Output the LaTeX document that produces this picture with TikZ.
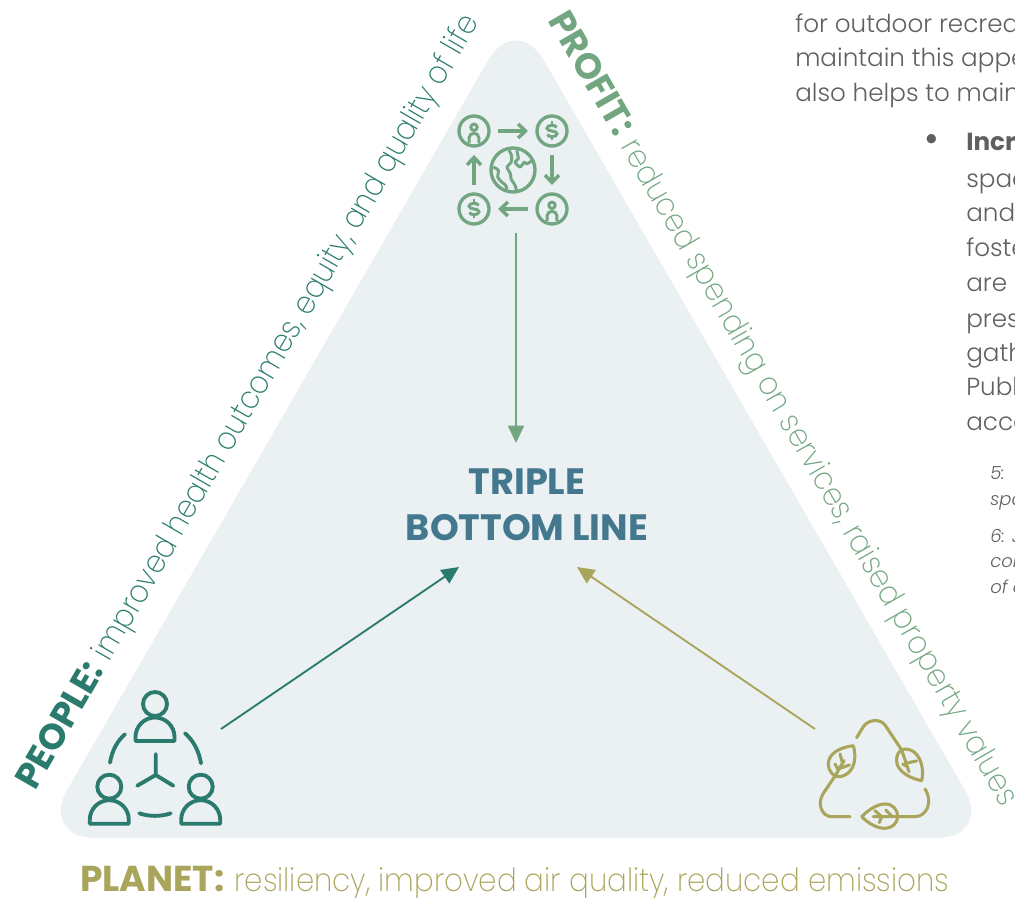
\documentclass[tikz,border=0pt]{standalone}
\usepackage{fontspec}
\usepackage{tikz}
\usetikzlibrary{arrows.meta,positioning,calc}
\setmainfont{Poppins Light}[BoldFont={Poppins Bold},ItalicFont={Poppins Light Italic}]
\newfontfamily\sidefont{Poppins ExtraLight}
\newfontfamily\sideboldfont{Poppins Bold}
\definecolor{peoplegreen}{HTML}{2A7B6D}
\definecolor{profitgreen}{HTML}{72A680}
\definecolor{planetolive}{HTML}{A9A55B}
\definecolor{titleblue}{HTML}{43788E}
\definecolor{panelgrey}{HTML}{EBF0F2}
\definecolor{bodygrey}{HTML}{606060}
\newcommand{\sidebold}[1]{{\sideboldfont\fontsize{27}{27}\selectfont #1}\hspace{7.5pt}}
\newcommand{\sidelight}[2]{{\sidefont\addfontfeature{FakeStretch=#1}\fontsize{24}{24}\selectfont #2}}
\tikzstyle{sidelabel} = [anchor=base west, inner sep=0pt]
\tikzstyle{bodyline} = [anchor=base west, inner sep=0pt, text=bodygrey, font=\fontsize{18.5}{18.5}\selectfont]
\tikzstyle{noteline} = [anchor=base west, inner sep=0pt, text=bodygrey, font=\fontsize{13.5}{13.5}\selectfont\itshape]
\tikzstyle{arrow} = [line width=1.4pt,-{Triangle[length=13pt,width=12pt]}]
\tikzstyle{iconline} = [line width=2.9pt,line cap=round,line join=round]
\tikzstyle{badge} = [circle, draw=profitgreen, line width=2.5pt, minimum size=22.5pt, inner sep=0pt]
\tikzstyle{ringarrow} = [line width=2.6pt,profitgreen,shorten <=5.5pt,shorten >=5.5pt,-{Straight Barb[length=5.5pt,width=10.5pt]}]
\tikzset{
  personmark/.pic={
    \draw[line width=2.2pt,profitgreen] (0,-3.7) circle (3.2);
    \draw[line width=2.2pt,profitgreen] (-4.8,12) -- (-4.8,6.5) .. controls (-4.8,1) and (4.8,1) .. (4.8,6.5) -- (4.8,12);
  },
  dollarmark/.pic={
    \draw[line width=2.2pt,profitgreen] (4.6,-3.5) .. controls (4,-6.5) and (-5,-6.5) .. (-5,-2.8) .. controls (-5,1) and (5,-1) .. (5,2.8) .. controls (5,6.5) and (-4,6.5) .. (-4.6,3.5);
    \draw[line width=2.2pt,profitgreen] (0,-9.5) -- (0,-6) (0,6) -- (0,9.5);
  },
  teambust/.pic={
    \draw[iconline] (0,-37) circle (12);
    \draw[iconline] (-19.5,0) -- (-19.5,-4) arc (180:360:19.5) -- (19.5,0) -- cycle;
  }
}
\begin{document}
\begin{tikzpicture}[x=0.75pt,y=-0.75pt]
\useasboundingbox (0,0) rectangle (1015,898);
\fill[panelgrey, rounded corners=42pt] (516,12) -- (992.5,838) -- (39.5,838) -- cycle;

% side labels
\node[sidelabel, rotate=60, text=peoplegreen] (peoplelabel) at (35,792) {\sidebold{PEOPLE:}\sidelight{0.90}{improved health outcomes, equity, and quality of life}};
\node[sidelabel, rotate=-60, text=profitgreen] (profitlabel) at (547,20) {\sidebold{PROFIT:}\sidelight{0.91}{reduced spending on services, raised property values}};
\node[sidelabel, text=planetolive] (planetlabel) at (80,891) {\sidebold{PLANET:}\sidelight{0.915}{resiliency, improved air quality, reduced emissions}};

% centre
\node[align=center, text=titleblue, inner sep=0pt, minimum width=177pt, minimum height=93pt, font=\fontsize{27.5}{34.3}\selectfont\bfseries] (title) at (527,505) {TRIPLE\\BOTTOM LINE};

% profit icon
\node[badge] (badgeNW) at (474,131) {};
\node[badge] (badgeNE) at (552,131) {};
\node[badge] (badgeSE) at (552,209) {};
\node[badge] (badgeSW) at (474,209) {};
\pic at (badgeNW) {personmark};
\pic at (badgeSE) {personmark};
\pic at (badgeNE) {dollarmark};
\pic at (badgeSW) {dollarmark};
\draw[ringarrow] (badgeNW) -- (badgeNE);
\draw[ringarrow] (badgeNE) -- (badgeSE);
\draw[ringarrow] (badgeSE) -- (badgeSW);
\draw[ringarrow] (badgeSW) -- (badgeNW);
\node[circle, draw=profitgreen, line width=2.5pt, minimum size=33pt, inner sep=0pt] (globe) at (513,170) {};
\begin{scope}[shift={(485,142)},x=0.25pt,y=-0.25pt,line width=2.2pt,profitgreen,line join=round]
\draw plot[smooth] coordinates {(72,25) (80,42) (78,62) (66,75) (76,95) (78,110) (90,130) (95,147)};
\draw plot[smooth] coordinates {(25,75) (40,85) (38,105) (50,120) (62,130) (66,143)};
\draw plot[smooth] coordinates {(95,25) (100,50) (90,60) (105,75) (118,60) (125,66) (142,55)};
\end{scope}

% people icon
\begin{scope}[peoplegreen,every path/.style={iconline}]
\pic at (155,741) {teambust};
\pic at (109.3,823.7) {teambust};
\pic at (200.7,823.7) {teambust};
\draw (125,734.3) .. controls (117,741) and (112,751) .. (110,762.7);
\draw (185,733.3) .. controls (193,740) and (199,751) .. (201,763.3);
\draw (139.3,813.3) .. controls (149,816.7) and (161,816.7) .. (170.7,813.3);
\draw (155.7,754) -- (155.7,775) -- (137.3,785.7) (155.7,775) -- (173.3,785.7);
\end{scope}

% planet icon
\begin{scope}[shift={(820,740)},x=0.25pt,y=-0.25pt,line width=2.3pt,planetolive,line cap=round,line join=round]
\draw (110,-7) -- (130,-40) .. controls (145,-62) and (180,-65) .. (195,-45) -- (245,30);
\draw (305,122) .. controls (315,75) and (295,27) .. (255,27) .. controls (235,27) and (228,50) .. (230,65) .. controls (233,95) and (270,115) .. (305,122);
\draw (245,30) -- (267,95) (265,68) -- (290,63) (248,72) -- (262,80);
\draw (100,17) .. controls (60,22) and (25,40) .. (25,72) .. controls (25,95) and (42,113) .. (60,110) .. controls (90,105) and (115,75) .. (100,17);
\draw (45,108) -- (72,62) (60,42) -- (68,70) (45,72) -- (55,90) (88,75) -- (60,85);
\draw (125,230) .. controls (150,205) and (175,192) .. (195,192) .. controls (220,192) and (233,210) .. (233,230) .. controls (233,250) and (215,265) .. (195,265) .. controls (170,265) and (145,250) .. (125,230);
\draw (160,230) -- (285,230) .. controls (320,230) and (340,185) .. (315,147);
\draw (165,212) -- (185,230) -- (178,248) (197,210) -- (217,230);
\draw (90,230) -- (35,230) .. controls (5,230) and (-10,190) .. (10,160) -- (45,108);
\end{scope}

% arrows
\coordinate (peopleout) at (221,729);
\coordinate (planetout) at (815,729);
\coordinate (profitout) at (516,233);
\coordinate (peoplein) at (459,567);
\coordinate (planetin) at (577,567);
\coordinate (profitin) at (516,443);
\draw[arrow, profitgreen] (profitout) -- (profitin);
\draw[arrow, peoplegreen] (peopleout) -- (peoplein);
\draw[arrow, planetolive] (planetout) -- (planetin);

% page text on the right
\node[bodyline] (lineA) at (795,33) {for outdoor recrea};
\node[bodyline] (lineB) at (795,67) {maintain this appe};
\node[bodyline] (lineC) at (795,102) {also helps to main};
\node[bodyline, font=\fontsize{30}{30}\selectfont] (bulletmark) at (924,153) {\textbullet};
\node[bodyline] (lineD) at (966,151) {\textbf{Incr}};
\node[bodyline] (lineE) at (966,188) {spac};
\node[bodyline] (lineF) at (966,222) {and};
\node[bodyline] (lineG) at (966,257) {foste};
\node[bodyline] (lineH) at (966,292) {are};
\node[bodyline] (lineI) at (966,328) {pres};
\node[bodyline] (lineJ) at (966,362) {gath};
\node[bodyline] (lineK) at (966,396) {Publ};
\node[bodyline] (lineL) at (966,431) {acce};
\node[noteline] (noteA) at (990,480) {5:};
\node[noteline] (noteB) at (990,506) {spa};
\node[noteline] (noteC) at (990,543) {6: J};
\node[noteline] (noteD) at (990,568) {col};
\node[noteline] (noteE) at (990,594) {of a};
\end{tikzpicture}
\end{document}
